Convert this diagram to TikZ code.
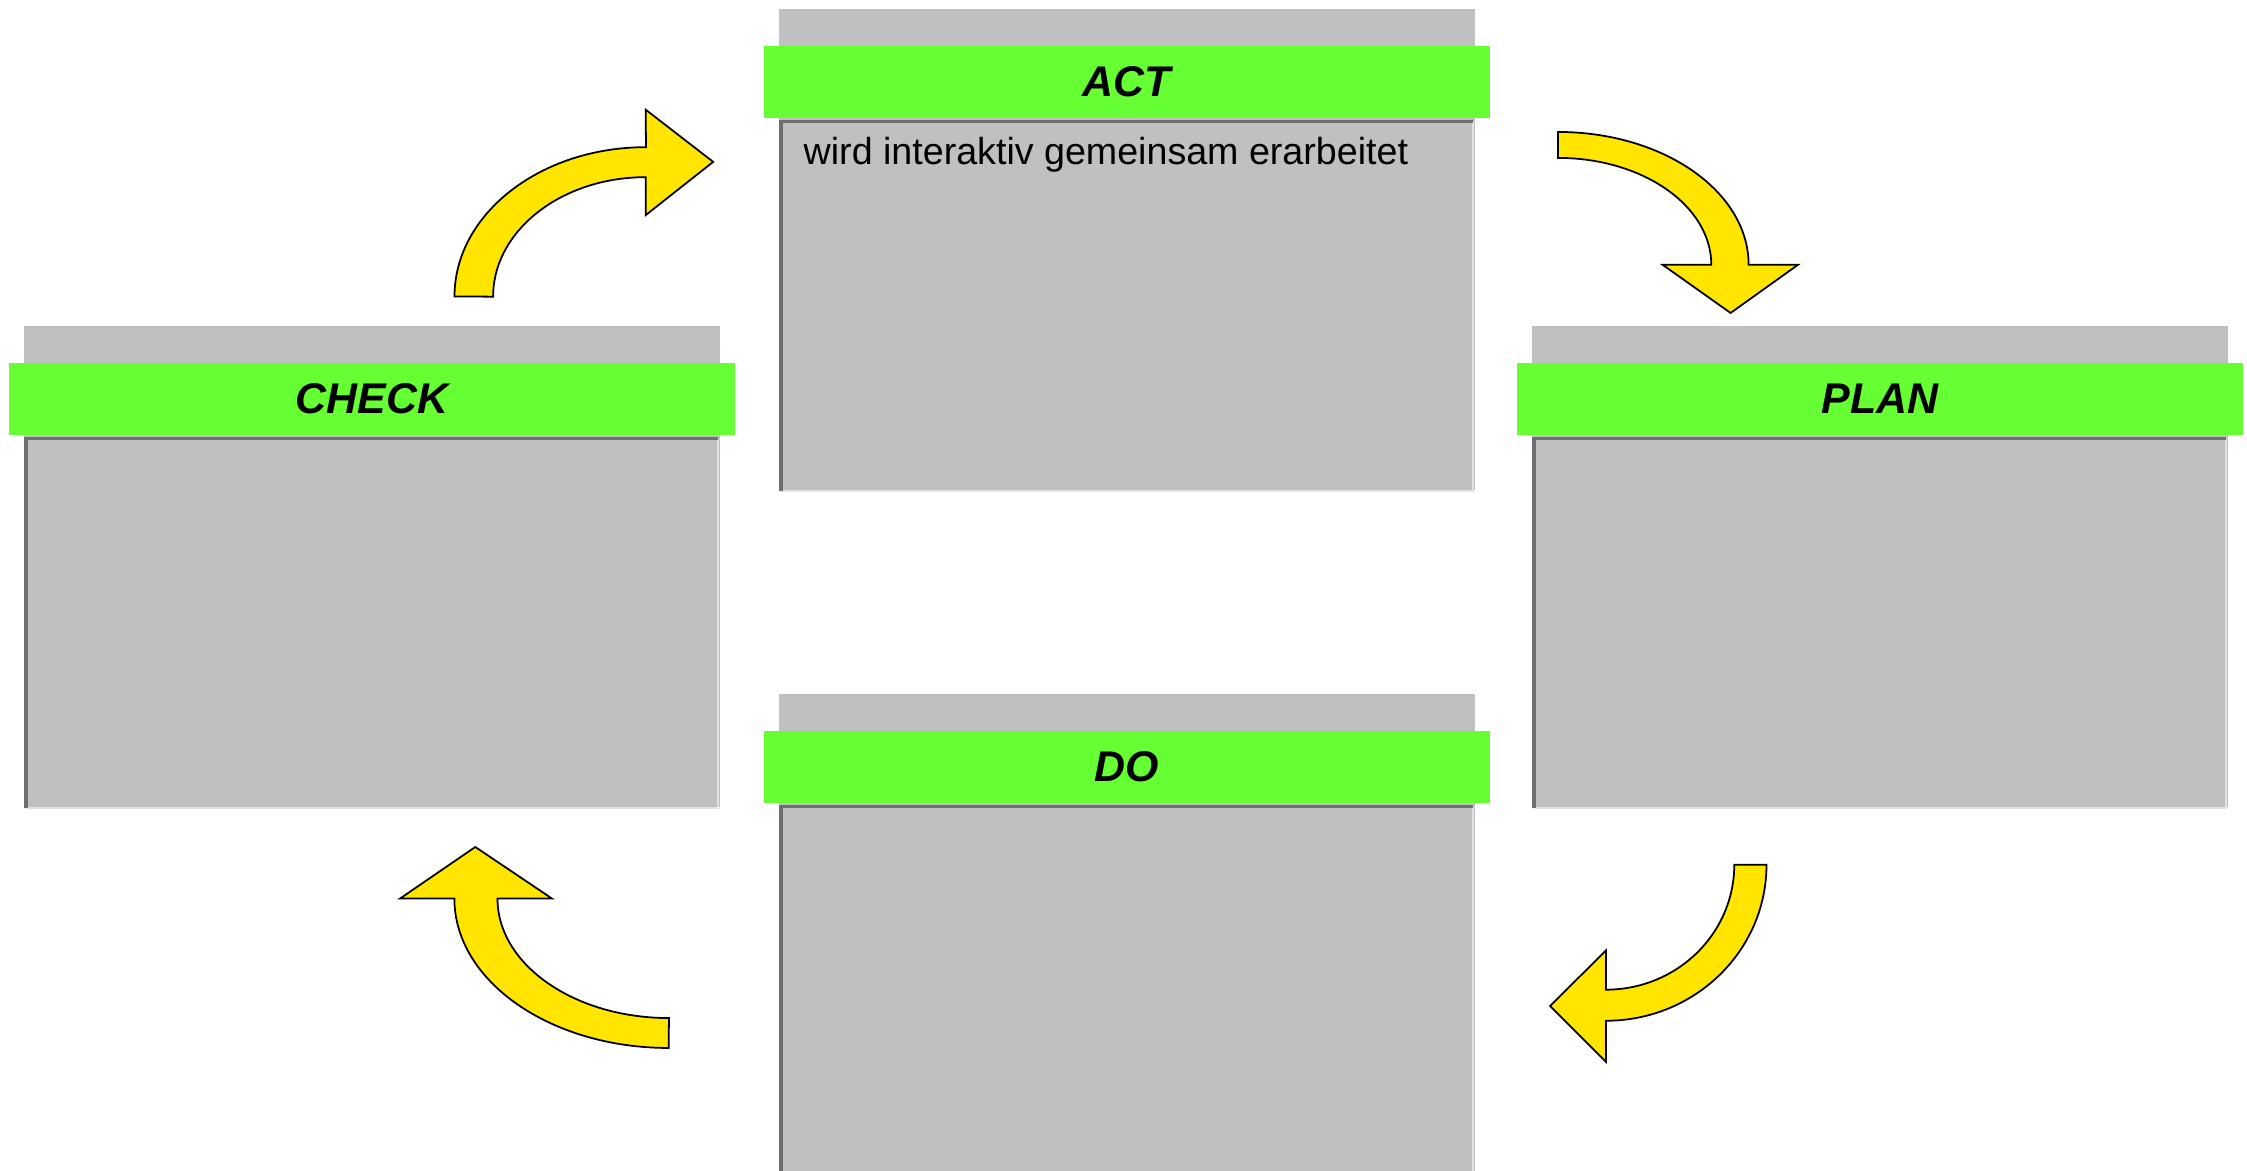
\documentclass[tikz,border=0pt]{standalone}
\usepackage{fontspec}
\setmainfont{Liberation Sans}
\usetikzlibrary{positioning}
\definecolor{boxgray}{HTML}{C0C0C0}
\definecolor{bandgreen}{HTML}{66FF33}
\definecolor{arrowyellow}{HTML}{FFE500}
\definecolor{shadedark}{HTML}{6E6E6E}
\definecolor{shadelight}{HTML}{E2E2E2}
\begin{document}
\begin{tikzpicture}[x=0.01cm, y=0.01cm,
    panel/.style={fill=boxgray, inner sep=0, minimum width=6.96cm, minimum height=4.81cm, anchor=north west},
    band/.style={fill=bandgreen, inner sep=0, minimum width=7.26cm, minimum height=0.72cm,
      font=\fontsize{12.2}{14}\selectfont\bfseries\itshape},
    well/.style={inner sep=0, minimum width=6.90cm, minimum height=3.68cm},
    note/.style={inner sep=0, font=\fontsize{10.7}{13}\selectfont},
    curlarrow/.style={fill=arrowyellow, draw=black, line width=0.5pt, line join=miter}]
  \useasboundingbox (0,0) rectangle (2247,1171);
  \node[panel] (act) at (778,1163) {};
  \node[panel] (check) at (23,846) {};
  \node[panel] (plan) at (1531,846) {};
  \node[panel] (do) at (778,478) {};
  \node[band, below=0.37cm of act.north] (act-band) {ACT};
  \node[band, below=0.37cm of check.north] (check-band) {CHECK};
  \node[band, below=0.37cm of plan.north] (plan-band) {PLAN};
  \node[band, below=0.37cm of do.north] (do-band) {DO};
  \node[well, below=0.03cm of act-band.south] (act-well) {};
  \node[well, below=0.03cm of check-band.south] (check-well) {};
  \node[well, below=0.03cm of plan-band.south] (plan-well) {};
  \node[well, below=0.03cm of do-band.south] (do-well) {};
  \foreach \n in {act,check,plan,do} {
    \draw[shadelight, line width=0.7pt] (\n-well.south west) -- (\n-well.south east) -- (\n-well.north east);
    \draw[shadedark, line width=1pt] (\n-well.south west) -- (\n-well.north west) -- (\n-well.north east);
  }
  \node[note, below right=0.15cm and 0.22cm of act-well.north west] (act-note) {wird interaktiv gemeinsam erarbeitet};
  \draw[curlarrow] (454.5,874.4) arc[start angle=180, end angle=90, x radius=1.913cm, y radius=1.493cm]
    -- (645.8,1061.2) -- (713.2,1009.1) -- (645.8,955.9) -- (645.8,993.8)
    arc[start angle=90, end angle=180, x radius=1.526cm, y radius=1.194cm] -- cycle;
  \draw[curlarrow] (1558,1039) arc[start angle=90, end angle=0, x radius=1.905cm, y radius=1.328cm]
    -- (1798,906.2) -- (1730.6,858) -- (1662.6,906.2) -- (1711.3,906.2)
    arc[start angle=0, end angle=90, x radius=1.533cm, y radius=1.068cm] -- cycle;
  \draw[curlarrow] (1766.5,306.2) arc[start angle=0, end angle=-90, x radius=1.605cm, y radius=1.559cm]
    -- (1606,109.2) -- (1550.1,165) -- (1606,220.6) -- (1606,181.3)
    arc[start angle=-90, end angle=0, x radius=1.282cm, y radius=1.249cm] -- cycle;
  \draw[curlarrow] (668.8,123) arc[start angle=270, end angle=180, x radius=2.143cm, y radius=1.494cm]
    -- (400,272.4) -- (475.3,324) -- (552,272.4) -- (497.5,272.4)
    arc[start angle=180, end angle=270, x radius=1.713cm, y radius=1.194cm] -- cycle;
\end{tikzpicture}
\end{document}
